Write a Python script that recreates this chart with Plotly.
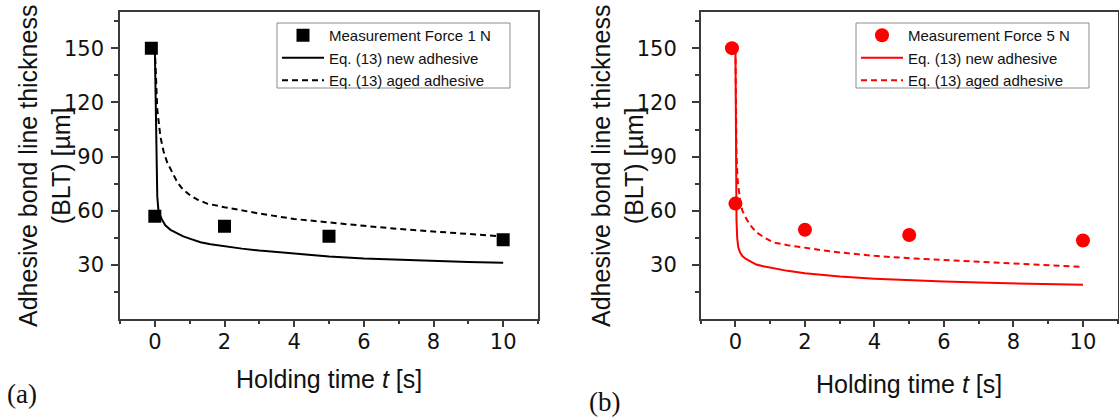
import plotly.graph_objects as go

# ---------------- data ----------------
meas_t_a = [-0.1, 0.0, 2.0, 5.0, 10.0]
meas_blt_a = [150, 57, 51.5, 46, 44]

new_t_a = [0.0, 0.02, 0.03, 0.05, 0.07, 0.1, 0.15, 0.21, 0.3, 0.45, 0.64, 0.8, 1.0, 1.15,
           1.31, 1.6, 2.0, 2.5, 3.0, 4.0, 5.0, 6.0, 7.0, 8.0, 9.0, 10.0]
new_blt_a = [150, 125, 110, 85, 68, 61, 57.5, 55, 52, 49.5, 47.5, 46, 44.6, 43.5,
             42.6, 41.5, 40.3, 39.1, 38, 36.2, 34.8, 33.7, 32.9, 32.2, 31.7, 31.3]

aged_t_a = [0.0, 0.03, 0.07, 0.16, 0.25, 0.35, 0.5, 0.64, 0.8, 1.02, 1.25, 1.5, 2.0, 2.5,
            3.0, 4.0, 5.0, 6.0, 7.0, 8.0, 9.0, 10.0]
aged_blt_a = [150, 130, 116, 101, 93, 87, 81, 76, 72, 68.5, 66, 64, 62, 60.2,
              58.5, 55.5, 53.5, 51.7, 50, 48.6, 47.2, 45.8]

meas_t_b = [-0.1, 0.0, 2.0, 5.0, 10.0]
meas_blt_b = [150, 64, 49.5, 46.6, 43.6]

new_t_b = [0.0, 0.01, 0.02, 0.03, 0.05, 0.08, 0.13, 0.2, 0.3, 0.42, 0.6, 0.8, 1.0, 1.5,
           2.0, 2.5, 3.0, 4.0, 5.0, 6.0, 7.0, 8.0, 9.0, 10.0]
new_blt_b = [150, 100, 70, 55, 45, 40, 37, 35, 33.4, 32, 30.3, 29.3, 28.5, 26.8,
             25.5, 24.5, 23.7, 22.5, 21.6, 20.9, 20.3, 19.9, 19.5, 19.1]

aged_t_b = [0.0, 0.01, 0.03, 0.06, 0.13, 0.2, 0.32, 0.45, 0.61, 0.85, 1.09, 1.5, 2.0,
            2.5, 3.0, 4.0, 5.0, 6.0, 7.0, 8.0, 9.0, 9.9]
aged_blt_b = [150, 120, 92, 77.5, 66.4, 60, 55.4, 51.5, 48, 45, 42.5, 41, 39.5,
              38.2, 37, 35.1, 33.8, 32.8, 31.6, 30.6, 29.8, 29.1]

x_ticks = [0, 2, 4, 6, 8, 10]
x_minor = [-1, 1, 3, 5, 7, 9, 11]
y_ticks = [30, 60, 90, 120, 150]
y_minor = [15, 45, 75, 105, 135, 165]

leg_names_a = ["Measurement Force 1 N", "Eq. (13) new adhesive", "Eq. (13) aged adhesive"]
leg_names_b = ["Measurement Force 5 N", "Eq. (13) new adhesive", "Eq. (13) aged adhesive"]

# ---------------- figure ----------------
W, H = 1119, 419
BLACK = "#000000"
RED = "#ff0000"
AX = "#3a3a3a"

fig = go.Figure()

def add_panel(xa, ya, legend, color, sym, msize, mt, mb, nt, nb, at, ab, names):
    fig.add_trace(go.Scatter(x=nt, y=nb, mode="lines", name=names[1],
                             line=dict(color=color, width=2), xaxis=xa, yaxis=ya,
                             legend=legend, legendrank=2))
    fig.add_trace(go.Scatter(x=at, y=ab, mode="lines", name=names[2],
                             line=dict(color=color, width=2, dash="6px,4px"),
                             xaxis=xa, yaxis=ya, legend=legend, legendrank=3))
    fig.add_trace(go.Scatter(x=mt, y=mb, mode="markers", name=names[0],
                             marker=dict(color=color, symbol=sym, size=msize,
                                         line=dict(width=0)),
                             xaxis=xa, yaxis=ya, legend=legend, legendrank=1))

add_panel("x", "y", "legend", BLACK, "square", 13, meas_t_a, meas_blt_a,
          new_t_a, new_blt_a, aged_t_a, aged_blt_a, leg_names_a)
add_panel("x2", "y2", "legend2", RED, "circle", 14, meas_t_b, meas_blt_b,
          new_t_b, new_blt_b, aged_t_b, aged_blt_b, leg_names_b)

def px_x(p):
    return p / W

def px_y(p):
    return 1 - p / H

tickfont = dict(family="DejaVu Sans, Arial, sans-serif", size=21, color="#111111")

def xaxis(domain, anchor):
    return dict(domain=domain, anchor=anchor, range=[-1, 11],
                tickmode="array", tickvals=x_ticks, ticks="outside", ticklen=6,
                tickwidth=1.5, tickcolor=AX,
                minor=dict(tickmode="array", tickvals=x_minor, ticks="outside",
                           ticklen=3, tickwidth=1.5, tickcolor=AX),
                showline=True, linecolor=AX, linewidth=1.5, mirror=True,
                showgrid=False, zeroline=False, tickfont=tickfont,
                ticklabelstandoff=-3)

def yaxis(domain, anchor, standoff):
    return dict(domain=domain, anchor=anchor, range=[0, 170],
                tickmode="array", tickvals=y_ticks, ticks="outside", ticklen=7,
                tickwidth=1.5, tickcolor=AX,
                minor=dict(tickmode="array", tickvals=y_minor, ticks="outside",
                           ticklen=4, tickwidth=1.5, tickcolor=AX),
                showline=True, linecolor=AX, linewidth=1.5, mirror=True,
                showgrid=False, zeroline=False, tickfont=tickfont,
                ticklabelstandoff=standoff)

legfont = dict(family="Liberation Sans, Arial, sans-serif", size=15, color="#111")
ydom = [px_y(319.3), px_y(12)]
fig.update_layout(
    width=W, height=H,
    margin=dict(l=0, r=0, t=0, b=0),
    paper_bgcolor="white", plot_bgcolor="white",
    showlegend=True,
    xaxis=xaxis([px_x(120), px_x(538)], "y"),
    yaxis=yaxis(ydom, "x", 3),
    xaxis2=xaxis([px_x(700.7), px_x(1117.7)], "y2"),
    yaxis2=yaxis(ydom, "x2", 11),
    legend=dict(x=px_x(277), y=px_y(19), xanchor="left", yanchor="top",
                bgcolor="rgba(0,0,0,0)", borderwidth=0,
                font=legfont, tracegroupgap=0, itemwidth=42),
    legend2=dict(x=px_x(856), y=px_y(19), xanchor="left", yanchor="top",
                 bgcolor="rgba(0,0,0,0)", borderwidth=0,
                 font=legfont, tracegroupgap=0, itemwidth=42),
)

# legend frames (boxes around the legends)
for x0, x1 in [(277, 510), (856, 1089)]:
    fig.add_shape(type="rect", xref="paper", yref="paper",
                  x0=px_x(x0), x1=px_x(x1), y0=px_y(88), y1=px_y(23),
                  line=dict(color="#8c8c8c", width=1), fillcolor="white", layer="above")

title_font = dict(family="Liberation Sans, Arial, sans-serif", size=25, color="#111111")
ytitle = "Adhesive bond line thickness<br>(BLT) [µm]"
xtitle = "Holding time <i>t</i> [s]"

annots = [
    dict(x=px_x(44), y=px_y(166), text=ytitle, textangle=-90),
    dict(x=px_x(617), y=px_y(166), text=ytitle, textangle=-90),
    dict(x=px_x(329), y=px_y(379), text=xtitle, textangle=0),
    dict(x=px_x(909), y=px_y(384), text=xtitle, textangle=0),
]
for a in annots:
    fig.add_annotation(xref="paper", yref="paper", x=a["x"], y=a["y"], text=a["text"],
                       textangle=a["textangle"], showarrow=False, font=title_font,
                       xanchor="center", yanchor="middle", align="center")

panel_font = dict(family="Liberation Serif, Times New Roman, serif", size=27, color="#111111")
fig.add_annotation(xref="paper", yref="paper", x=px_x(22), y=px_y(394), text="(a)",
                   showarrow=False, font=panel_font, xanchor="center", yanchor="middle")
fig.add_annotation(xref="paper", yref="paper", x=px_x(604), y=px_y(402), text="(b)",
                   showarrow=False, font=panel_font, xanchor="center", yanchor="middle")

fig.write_html("out.html", config={"displayModeBar": False},
               post_script="document.body.style.margin='0px';document.body.style.padding='0px';")
